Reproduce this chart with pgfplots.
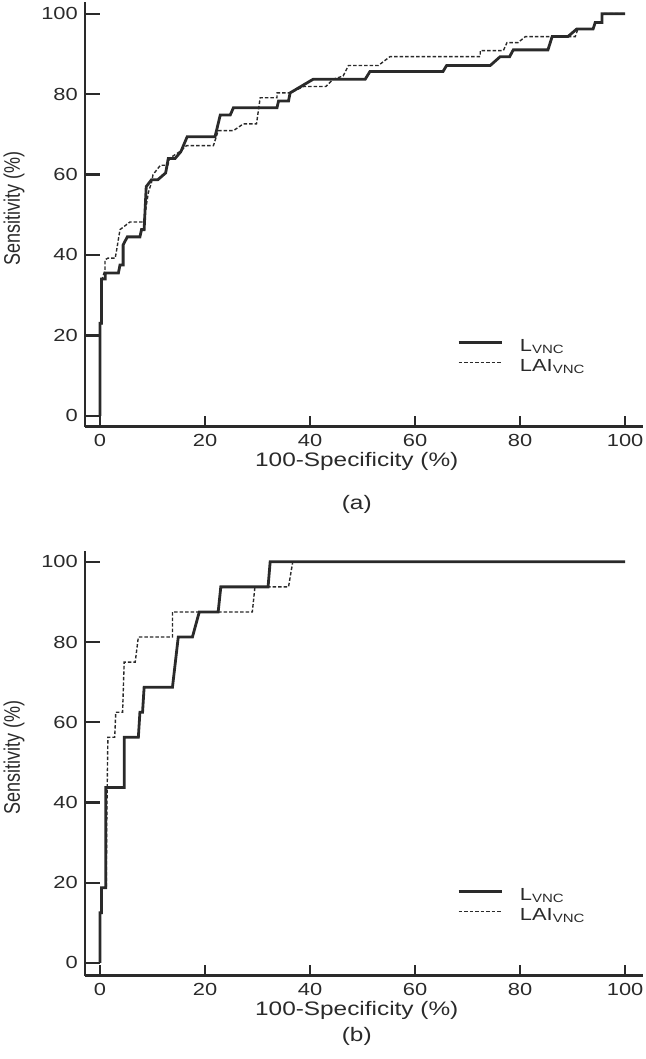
\documentclass[border=0pt]{standalone}
\usepackage{fontspec}
\setmainfont{Liberation Sans}[FakeStretch=1.25]
\newfontfamily\ylabfont{Liberation Sans}
\usepackage{pgfplots}
\pgfplotsset{compat=1.18}
\definecolor{ink}{HTML}{2A2A2A}
\pgfplotsset{
  rocaxis/.style={
    scale only axis, width=558pt, height=424.7pt,
    xmin=-2.86, xmax=103.4,
    axis x line=bottom, axis y line=left,
    axis line style={-, line width=2.6pt, color=ink},
    tick align=inside,
    xtick={0,20,...,100}, ytick={0,20,...,100},
    major tick style={line width=2.2pt, color=ink},
    xtick style={/pgfplots/major tick length=11pt},
    ytick style={/pgfplots/major tick length=15pt},
    /pgf/number format/assume math mode=true,
    tick label style={font=\fontsize{17.5}{17.5}\selectfont, text=ink, inner sep=0pt},
    yticklabel style={xshift=-7pt},
    xticklabel style={yshift=-7pt},
    every axis x label/.style={at={(rel axis cs:0.487,0)}, anchor=center, yshift=-35pt, font=\fontsize{19.5}{19.5}\selectfont, text=ink},
    every axis y label/.style={at={(rel axis cs:0,0.513)}, xshift=-71pt, rotate=90, anchor=center, font=\ylabfont\fontsize{18}{18}\selectfont, text=ink},
    xlabel={100-Specificity (\%)}, ylabel={\scalebox{1}[1.25]{Sensitivity (\%)}},
    clip=false,
    legend image code/.code={\draw[##1] (0pt,4.5pt) -- (43pt,4.5pt);},
    legend cell align=left,
    legend style={at={(rel axis cs:0.667,0.207)}, anchor=north west, draw=none, fill=none,
      inner sep=0pt, outer sep=0pt, row sep=4pt, column sep=17pt,
      font=\fontsize{17.5}{17.5}\selectfont, text=ink,
      nodes={inner sep=0pt, text height=12.5pt, text depth=3.5pt}},
  },
  solidroc/.style={line width=2.8pt, color=ink, line join=miter},
  dashroc/.style={line width=1.4pt, color=ink, dash pattern=on 3.5pt off 2pt},
}
\newcommand{\sub}[1]{\raisebox{-2.5pt}{\fontsize{12}{12}\selectfont #1}}
\begin{document}
\begin{tikzpicture}
\path[use as bounding box] (-85pt,-632.3pt) rectangle (560pt,426.7pt);
% ---------------- (a) ----------------
\begin{axis}[rocaxis, at={(0,0)}, anchor=south west, ymin=-2.7, ymax=102.9]
\addplot[solidroc] coordinates {
(0,0) (0,23) (0.3,23) (0.3,34) (1,34) (1,35.5) (3.5,35.5) (3.8,37.5) (4.4,37.5) (4.4,42.5) (5.2,44.5) (7.6,44.5) (7.9,46.3) (8.4,46.3) (8.8,57) (9.8,58.7) (11,58.7) (12.5,60.4) (13,64) (14.3,64) (15.4,65.7) (16.6,69.4) (21.9,69.4) (22.9,74.8) (24.8,74.8) (25.4,76.6) (33.7,76.6) (34,78.3) (35.9,78.3) (36.2,80.3) (40.6,83.7) (50.5,83.7) (51.4,85.6) (65.3,85.6) (66,87.1) (74.3,87.1) (76.2,89.3) (78,89.3) (78.7,91) (85.3,91) (86.1,94.3) (89.1,94.3) (90.8,96.2) (93.9,96.2) (94.3,97.8) (95.6,97.8) (95.6,100) (100,100)
};
\addlegendentry{L\sub{VNC}}
\addplot[dashroc] coordinates {
(0,0) (0,23) (0.4,23) (0.4,34) (0.95,36.3) (0.95,38.8) (1.5,39.2) (2.9,39.2) (3.2,41.5) (3.8,46.3) (5.7,48.2) (8.3,48.2) (8.6,50.5) (9.2,55.5) (9.8,58) (10.1,60) (11.5,62.3) (12.9,62.3) (13.3,64.1) (15.2,65.7) (16.5,67.2) (21.6,67.2) (22.5,70.9) (25.4,70.9) (27.3,72.6) (29.8,72.6) (30.5,79.1) (33.7,79.1) (33.7,80.3) (36.2,80.3) (38.8,81.9) (43,81.9) (44.4,83.7) (46.3,84.5) (47.3,87.1) (53,87.1) (55.2,89.3) (72.4,89.3) (72.4,90.8) (76.8,90.8) (77.5,92.8) (79.6,92.8) (81,94.3) (90.5,94.3) (91,96.2) (93.9,96.2) (94.3,97.8) (95.6,97.8) (95.6,100) (100,100)
};
\addlegendentry{LAI\sub{VNC}}
\node[font=\fontsize{19.5}{19.5}\selectfont, text=ink, yshift=-78pt] at (rel axis cs:0.487,0) {(a)};
\end{axis}
% ---------------- (b) ----------------
\begin{axis}[rocaxis, at={(0,-549pt)}, anchor=south west, ymin=-3.2, ymax=102.7]
\addplot[solidroc] coordinates {
(0,0) (0,12.5) (0.3,12.5) (0.3,18.75) (1.1,18.75) (1.1,43.75) (4.6,43.75) (4.6,56.25) (7.3,56.25) (7.6,62.5) (8.1,62.5) (8.4,68.75) (13.8,68.75) (14.9,81.25) (17.6,81.25) (18.9,87.5) (22.5,87.5) (23,93.75) (32,93.75) (32.4,100) (100,100)
};
\addlegendentry{L\sub{VNC}}
\addplot[dashroc] coordinates {
(0,0) (0,12.5) (0.3,12.5) (0.3,18.75) (1.2,18.75) (1.3,37.5) (1.5,56.25) (2.8,56.25) (3.0,62.5) (4.3,62.5) (4.6,75) (6.7,75) (7.3,81.25) (13.8,81.25) (13.8,87.5) (29,87.5) (29.5,93.75) (35.9,93.75) (36.7,100) (100,100)
};
\addlegendentry{LAI\sub{VNC}}
\node[font=\fontsize{19.5}{19.5}\selectfont, text=ink, yshift=-61pt] at (rel axis cs:0.487,0) {(b)};
\end{axis}
\end{tikzpicture}
\end{document}
